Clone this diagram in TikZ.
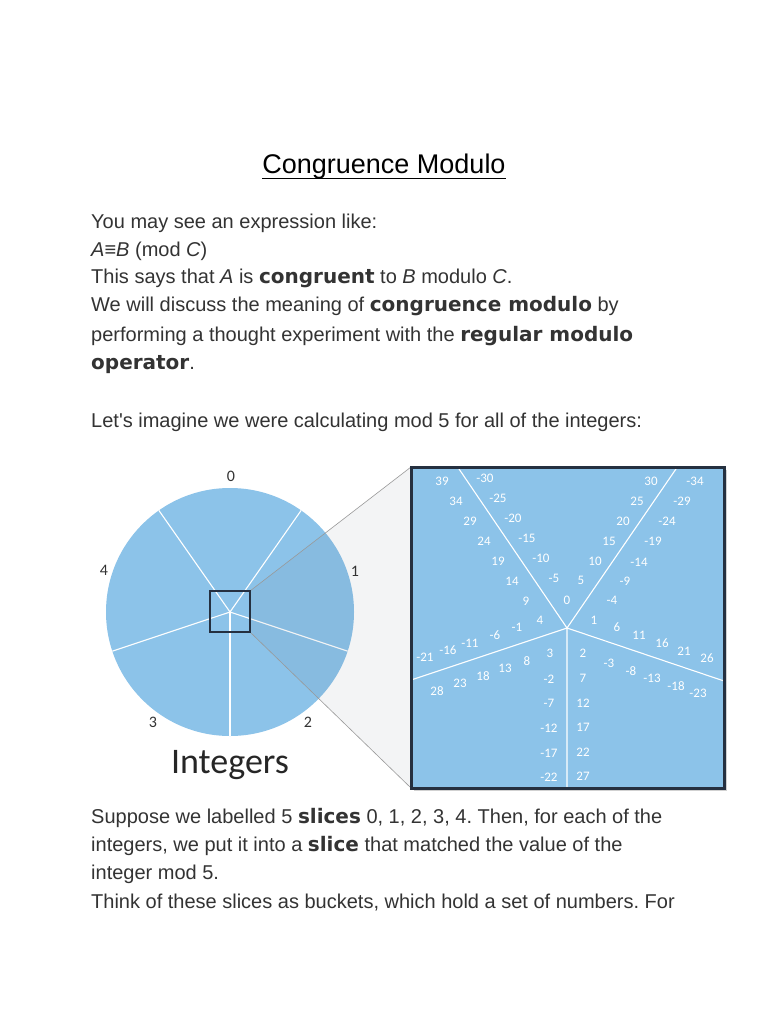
\documentclass[tikz,border=0pt]{standalone}
\usepackage{fontspec}
\setmainfont{Liberation Sans}
\newfontfamily\dvs{DejaVu Sans}
\newfontfamily\carl{Carlito}
\definecolor{slice}{RGB}{140,195,233}
\definecolor{boxedge}{RGB}{37,48,64}
\definecolor{txt}{RGB}{51,51,51}
\definecolor{conec}{RGB}{60,70,90}
\newcommand{\bw}[1]{{\dvs\bfseries #1}}
\tikzset{
  line/.style={anchor=base west,inner sep=0pt,text=txt,font=\fontsize{20}{24}\selectfont},
  num/.style={inner sep=0pt,text=white,font=\carl\fontsize{13}{15}\selectfont},
  lab/.style={inner sep=0pt,text=txt,font=\carl\fontsize{16}{18}\selectfont},
  sep/.style={draw=white,line width=1.1pt},
}
\begin{document}
\frenchspacing
\begin{tikzpicture}[x=1pt,y=-1pt]
\useasboundingbox[fill=white] (0,0) rectangle (768,1024);
% title
\node[anchor=base,inner sep=0pt,font=\fontsize{27}{30}\selectfont] (title) at (384,174) {Congruence Modulo};
\draw[line width=1.2pt] ([yshift=-4.5pt]title.base west) -- ([yshift=-4.5pt]title.base east);
% paragraph 1
\node[line] (l1) at (91,229) {You may see an expression like:};
\node[line] (l2) at (91,256) {\itshape A\upshape≡\itshape B\upshape{} (mod \itshape C\upshape)};
\node[line] (l3) at (91,283) {This says that \textit{A} is \bw{congruent} to \textit{B} modulo \textit{C}.};
\node[line] (l4) at (91,311) {We will discuss the meaning of \bw{congruence modulo} by};
\node[line] (l5) at (91,341) {performing a thought experiment with the \bw{regular modulo}};
\node[line] (l6) at (91,369) {\bw{operator}.};
\node[line] (l7) at (91,427) {Let\textquotesingle s imagine we were calculating mod 5 for all of the integers:};
% circle
\coordinate (c) at (230,612);
\fill[slice] (c) circle (124);
\foreach \a in {55,125,-18.4,198.4,-90} \draw[sep] (c) -- ++({-\a}:124);
% cone
\coordinate (sq1) at (250,591);
\coordinate (sq2) at (250,632);
\coordinate (bx1) at (411,467);
\coordinate (bx2) at (411,788);
\fill[conec,fill opacity=0.06] (sq1) -- (bx1) -- (bx2) -- (sq2) -- cycle;
\draw[gray!80,line width=0.6pt] (sq1) -- (bx1) (sq2) -- (bx2);
\draw[boxedge,line width=1.6pt] (210,591) rectangle (250,632);
% circle labels
\node[lab] at (231,476) {0};
\node[lab] at (355,571) {1};
\node[lab] at (308,722) {2};
\node[lab] at (153,722) {3};
\node[lab] at (104,570) {4};
\node[inner sep=0pt,text=black!85,font=\carl\fontsize{36}{40}\selectfont] at (230,765) {Integers};
% big box
\fill[black!18] (413.5,469.5) rectangle (726.5,790.5);
\fill[slice] (411,467) rectangle (724,788);
\coordinate (bc) at (567,628);
\begin{scope}
\clip (411,467) rectangle (724,788);
\draw[sep] (bc) -- (457,466) (bc) -- (678,466) (bc) -- (724,681) (bc) -- (411,680) (bc) -- (567,790);
\end{scope}
\draw[boxedge,line width=3pt] (411,467) rectangle (724,788);
% numbers
\foreach \x/\y/\t in {442/481/39,485/478/-30,456/501/34,498/498/-25,470/521/29,513/518/-20,484/541/24,527/538/-15,498/561/19,541/558/-10,512/581/14,554/578/-5,526/601/9,567/600/0,581/580/5,595/561/10,609/541/15,623/521/20,637/501/25,651/481/30,695/481/-34,682/501/-29,667/521/-24,653/541/-19,639/562/-14,625/581/-9,612/600/-4,540/620/4,594/620/1,517/627/-1,495/635/-6,470/643/-11,448/650/-16,425/657/-21,617/627/6,639/635/11,662/643/16,684/651/21,707/658/26,550/653/3,583/653/2,527/661/8,505/668/13,483/676/18,460/683/23,437/691/28,609/663/-3,631/671/-8,652/678/-13,676/686/-18,698/693/-23,549/679/-2,583/678/7,549/703/-7,583/703/12,549/728/-12,583/727/17,549/753/-17,583/752/22,549/777/-22,583/776/27}
  \node[num] at (\x,\y) {\t};
% paragraph 2
\node[line] (m1) at (91,823) {Suppose we labelled 5 \bw{slices} 0, 1, 2, 3, 4. Then, for each of the};
\node[line] (m2) at (91,851) {integers, we put it into a \bw{slice} that matched the value of the};
\node[line] (m3) at (91,879) {integer mod 5.};
\node[line] (m4) at (91,908) {Think of these slices as buckets, which hold a set of numbers. For};
\end{tikzpicture}
\end{document}
